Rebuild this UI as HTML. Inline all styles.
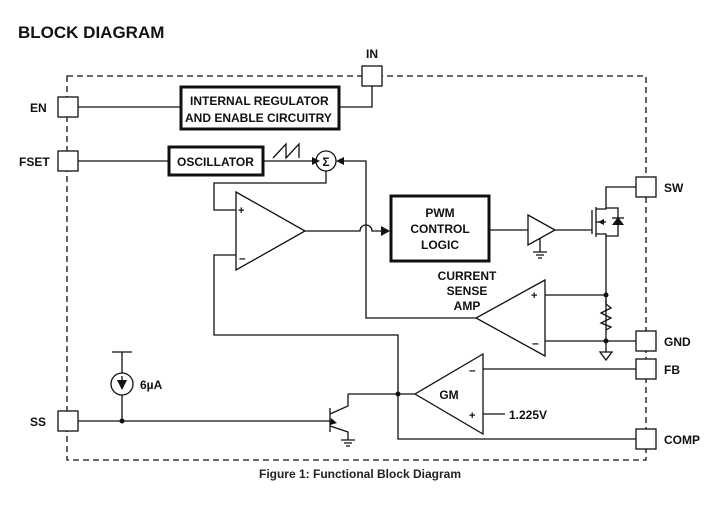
<!DOCTYPE html>
<html><head><meta charset="utf-8"><style>
html,body{margin:0;padding:0;background:#fff;}
svg{display:block;font-family:"Liberation Sans",Arial,sans-serif;font-weight:bold;}
</style></head><body>
<svg width="720" height="518" viewBox="0 0 720 518" xmlns="http://www.w3.org/2000/svg">
<rect width="720" height="518" fill="#fff"/>
<text x="18" y="38" font-size="17" fill="#111">BLOCK DIAGRAM</text>
<g fill="none" stroke="#111" stroke-width="1.3">
<rect x="67" y="76" width="579" height="384" stroke-dasharray="6,4"/>
</g>
<g fill="#fff" stroke="#111" stroke-width="1.3">
<rect x="362" y="66" width="20" height="20"/>
<rect x="58" y="97" width="20" height="20"/>
<rect x="58" y="151" width="20" height="20"/>
<rect x="58" y="411" width="20" height="20"/>
<rect x="636" y="177" width="20" height="20"/>
<rect x="636" y="331" width="20" height="20"/>
<rect x="636" y="359" width="20" height="20"/>
<rect x="636" y="429" width="20" height="20"/>
</g>
<g font-size="12" fill="#111">
<text x="366" y="58">IN</text>
<text x="30" y="112">EN</text>
<text x="19" y="166">FSET</text>
<text x="30" y="426">SS</text>
<text x="664" y="192">SW</text>
<text x="664" y="346">GND</text>
<text x="664" y="374">FB</text>
<text x="664" y="444">COMP</text>
</g>
<g fill="none" stroke="#111" stroke-width="1.3">
<!-- EN / regulator -->
<line x1="78" y1="107" x2="180" y2="107"/>
<path d="M340 107 H372 V86"/>
<rect x="181" y="87" width="158" height="42" stroke-width="3"/>
<!-- FSET / osc -->
<line x1="78" y1="161" x2="168" y2="161"/>
<rect x="169" y="147" width="94" height="28" stroke-width="3"/>
<line x1="264" y1="161" x2="312" y2="161"/>
<path d="M273 158 L286 144 V158 L299 144 V158"/>
<circle cx="326" cy="161" r="10"/>
<!-- feedback from CSA to sigma -->
<path d="M476 318 H366 V161 H340"/>
<!-- sigma to error amp + -->
<path d="M326 171 V183 H214 V210 H236"/>
<!-- error amp -->
<path d="M236 192 L305 231 L236 270 Z"/>
<path d="M236 255 H214 V335 H398 V439 H636"/>
<path d="M305 231 H360 A6 6 0 0 1 372 231 H386"/>
<!-- PWM -->
<rect x="391" y="196" width="98" height="65" stroke-width="3"/>
<line x1="490" y1="230" x2="528" y2="230"/>
<path d="M528 215 L555 230 L528 245 Z"/>
<path d="M540 238 V252 M533 252 H547 M536 255 H544 M538 258 H542"/>
<line x1="555" y1="230" x2="592" y2="230"/>
<!-- MOSFET -->
<line x1="592" y1="210" x2="592" y2="234"/>
<line x1="596" y1="207" x2="596" y2="237"/>
<path d="M596 209 H606 V187 H636"/>
<path d="M596 234 H606 V341"/>
<path d="M596 222 H606"/>
<path d="M606 208 H618 V236 H606"/>
<path d="M612 218 H624"/>
<!-- CSA -->
<path d="M545 280 L476 318 L545 356 Z"/>
<line x1="545" y1="295" x2="606" y2="295"/>
<line x1="545" y1="341" x2="636" y2="341"/>
<path d="M606 300 V304 L611 308 L601 313 L611 318 L601 323 L611 327 L606 330"/>
<path d="M606 341 V352 M600 352 H612 L606 360 Z"/>
<!-- GM -->
<path d="M483 354 L415 394 L483 434 Z"/>
<line x1="483" y1="369" x2="636" y2="369"/>
<line x1="483" y1="414" x2="505" y2="414"/>
<line x1="415" y1="394" x2="348" y2="394"/>
<!-- transistor -->
<line x1="330" y1="408" x2="330" y2="432"/>
<path d="M330 414 L348 406 V394"/>
<path d="M330 426 L348 432 V440"/>
<path d="M341 440 H355 M344 443 H352 M346 446 H350"/>
<!-- SS -->
<line x1="78" y1="421" x2="330" y2="421"/>
<path d="M112 352 H132 M122 352 V421"/>
<circle cx="122" cy="384" r="11" fill="#fff"/>
</g>
<g fill="#111">
<polygon points="320,161 312,157 312,165"/>
<polygon points="336,161 344,157 344,165"/>
<polygon points="390,231 381,226 381,236"/>
<polygon points="598,222 604,219 604,225"/>
<polygon points="612,225 624,225 618,217"/>
<polygon points="337,423 331,418 330,425"/>
<polygon points="117,380 127,380 122,390"/>
<line x1="122" y1="376" x2="122" y2="382" stroke="#111" stroke-width="1.3"/>
<circle cx="606" cy="295" r="2.5"/>
<circle cx="606" cy="341" r="2.5"/>
<circle cx="398" cy="394" r="2.5"/>
<circle cx="122" cy="421" r="2.5"/>
</g>
<g font-size="12" fill="#111">
<text x="190" y="105">INTERNAL REGULATOR</text>
<text x="185" y="122">AND ENABLE CIRCUITRY</text>
<text x="177" y="166">OSCILLATOR</text>
<text x="326" y="166" text-anchor="middle" font-size="12">Σ</text>
<text x="440" y="217" text-anchor="middle">PWM</text>
<text x="440" y="233" text-anchor="middle">CONTROL</text>
<text x="440" y="249" text-anchor="middle">LOGIC</text>
<text x="467" y="280" text-anchor="middle">CURRENT</text>
<text x="467" y="295" text-anchor="middle">SENSE</text>
<text x="467" y="310" text-anchor="middle">AMP</text>
<text x="449" y="399" text-anchor="middle">GM</text>
<text x="509" y="419">1.225V</text>
<text x="140" y="389">6µA</text>
<text x="238" y="214" font-size="11">+</text>
<text x="239" y="262" font-size="12">–</text>
<text x="531" y="299" font-size="11">+</text>
<text x="532" y="347" font-size="12">–</text>
<text x="469" y="374" font-size="12">–</text>
<text x="469" y="419" font-size="11">+</text>
</g>
<text x="360" y="478" text-anchor="middle" font-size="12" fill="#222">Figure 1: Functional Block Diagram</text>
</svg>
</body></html>
